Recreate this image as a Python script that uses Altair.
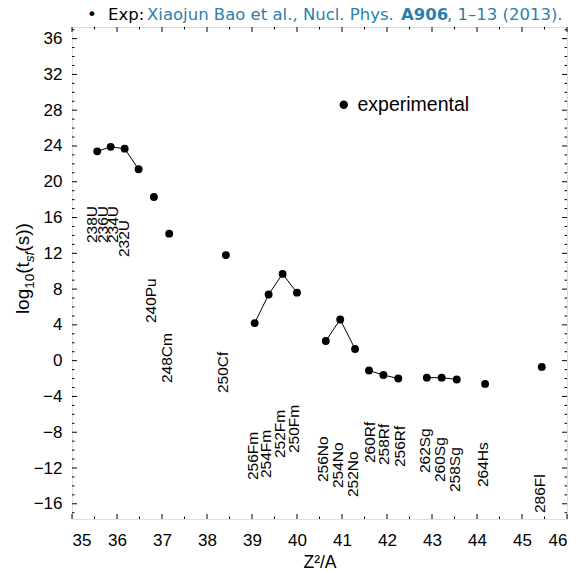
import altair as alt
import pandas as pd

# Spontaneous-fission half-lives of heavy nuclei versus the fissility parameter Z^2/A
nuclides = ["238U", "236U", "234U", "232U", "240Pu", "248Cm", "250Cf",
            "256Fm", "254Fm", "252Fm", "250Fm", "256No", "254No", "252No",
            "260Rf", "258Rf", "256Rf", "262Sg", "260Sg", "258Sg", "264Hs", "286Fl"]
z2_over_a = [35.56, 35.86, 36.17, 36.48, 36.82, 37.16, 38.42,
             39.06, 39.37, 39.68, 40.00, 40.64, 40.96, 41.29,
             41.60, 41.92, 42.25, 42.885, 43.215, 43.55, 44.18, 45.44]
log_tsf = [23.4, 23.9, 23.7, 21.4, 18.3, 14.2, 11.8,
           4.2, 7.4, 9.7, 7.6, 2.2, 4.6, 1.3,
           -1.1, -1.6, -2.0, -1.9, -1.9, -2.1, -2.6, -0.7]
element = ["U", "U", "U", "U", "Pu", "Cm", "Cf",
           "Fm", "Fm", "Fm", "Fm", "No", "No", "No",
           "Rf", "Rf", "Rf", "Sg", "Sg", "Sg", "Hs", "Fl"]

# anchor (start of the vertical text) of each nuclide name, in data units
label_x = [35.44, 35.68, 35.91, 36.16, 36.76, 37.10, 38.36,
           39.02, 39.31, 39.62, 39.93, 40.58, 40.91, 41.24,
           41.62, 41.93, 42.29, 42.84, 43.18, 43.51, 44.14, 45.40]
label_y = [13.15, 13.15, 13.15, 11.58, 4.20, -2.50, -3.62,
           -13.35, -13.12, -10.89, -10.33, -13.57, -14.24, -15.25,
           -11.45, -11.67, -11.89, -12.57, -13.57, -14.69, -14.13, -17.04]

x_ticks = list(range(35, 47))
x_minor = [v + 0.5 for v in range(35, 46)]
y_ticks = list(range(-16, 37, 4))
y_minor = [v for v in range(-17, 38) if v % 4 != 0]

W, H = 495, 492
FONT = "Liberation Sans"
CITE = "#2c7fa8"

df = pd.DataFrame({
    "nuclide": nuclides, "x": z2_over_a, "y": log_tsf, "element": element,
    "lx": label_x, "ly": label_y, "kind": "experimental",
})

xs = alt.Scale(domain=[35, 46], nice=False, zero=False)
ys = alt.Scale(domain=[-17.7, 37.3], nice=False, zero=False)

x_axis = alt.Axis(values=x_ticks, ticks=False, domain=False, grid=False,
                  labelFont=FONT, labelFontSize=17, labelColor="black",
                  labelPadding=13, titleFont=FONT, titleFontSize=17.5,
                  titleFontWeight="normal", titleColor="black", titlePadding=5)
y_axis = alt.Axis(values=y_ticks, ticks=False, domain=False, grid=False,
                  labelFont=FONT, labelFontSize=17, labelColor="black",
                  labelPadding=10)


def X(field):
    return alt.X(field, scale=xs, axis=x_axis, title="Z²/A")


def Y(field):
    return alt.Y(field, scale=ys, axis=y_axis, title=None)


base = alt.Chart(df)

lines = base.mark_line(color="black", strokeWidth=1).encode(
    x=X("x:Q"), y=Y("y:Q"), detail="element:N", order="x:Q",
)

points = base.mark_circle(size=62, opacity=1).encode(
    x=X("x:Q"), y=Y("y:Q"),
    color=alt.Color("kind:N", scale=alt.Scale(range=["black"]),
                    legend=alt.Legend(orient="none", legendX=262, legendY=68,
                                      title=None, symbolType="circle", symbolSize=70,
                                      symbolStrokeWidth=0, labelFont=FONT,
                                      labelFontSize=19.5, labelOffset=4, padding=0)),
)

names = base.mark_text(angle=270, align="left", baseline="middle",
                       font=FONT, fontSize=15.5, color="black").encode(
    x=X("lx:Q"), y=Y("ly:Q"), text="nuclide:N",
)


# frame ticks pointing inward on all four sides
def xtick_layer(vals, length):
    d = alt.Chart(pd.DataFrame({"v": vals}))
    bottom = d.mark_rule(color="black", strokeWidth=1).encode(
        x=X("v:Q"), y=alt.value(H), y2=alt.value(H - length))
    top = d.mark_rule(color="black", strokeWidth=1).encode(
        x=X("v:Q"), y=alt.value(0), y2=alt.value(length))
    return [bottom, top]


def ytick_layer(vals, length):
    d = alt.Chart(pd.DataFrame({"v": vals}))
    left = d.mark_rule(color="black", strokeWidth=1).encode(
        y=Y("v:Q"), x=alt.value(0), x2=alt.value(length))
    right = d.mark_rule(color="black", strokeWidth=1).encode(
        y=Y("v:Q"), x=alt.value(W), x2=alt.value(W - length))
    return [left, right]


ticks = (xtick_layer(x_ticks, 5) + xtick_layer(x_minor, 2.5)
         + ytick_layer(y_ticks, 5) + ytick_layer(y_minor, 2.5))

one = pd.DataFrame({"_": [0]})


def note(text, x, y, size, color="black", weight="normal", style="normal",
         angle=0, font=FONT):
    return alt.Chart(one).mark_text(
        text=text, align="left", baseline="alphabetic", angle=angle,
        font=font, fontSize=size, fontWeight=weight, fontStyle=style, color=color,
    ).encode(x=alt.value(x), y=alt.value(y))


# reference line above the frame
TF = "DejaVu Sans"
title_parts = [
    note("•", 87 - 72, 20 - 27, 16.5, font=TF),
    note("Exp:", 108 - 72, 20 - 27, 16.5, font=TF),
    note("Xiaojun Bao et al., Nucl. Phys. ", 147 - 72, 20 - 27, 16.5, CITE, font=TF),
    note("A906", 401 - 72, 20 - 27, 16.5, CITE, weight="bold", font=TF),
    note(", 1–13 (2013).", 447 - 72, 20 - 27, 16.5, CITE, font=TF),
]

# y-axis title log10(t_sf (s)) built from pieces with subscripts
ARIAL = {"l": 0.222, "o": 0.556, "g": 0.556, "1": 0.556, "0": 0.556, "(": 0.333,
         "t": 0.278, "s": 0.5, "f": 0.278, ")": 0.333, " ": 0.278}
pieces = [("log", 19, 0, "normal"), ("10", 13.5, 4.5, "normal"), ("(t", 19, 0, "normal"),
          ("sf", 13.5, 4.5, "italic"), (" (s))", 19, 0, "normal")]
total = sum(sum(ARIAL[c] for c in s) * sz for s, sz, _, _ in pieces)
cursor = 266 - 27 + total / 2
ytitle = []
for s, sz, shift, st in pieces:
    ytitle.append(note(s, 29 - 72 + shift, cursor, sz, style=st, angle=270))
    cursor -= sum(ARIAL[c] for c in s) * sz

chart = alt.layer(
    points, lines, names, *ticks, *title_parts, *ytitle
).properties(
    width=W, height=H,
    padding={"left": 72, "top": 27, "right": 12, "bottom": 54},
    autosize=alt.AutoSizeParams(type="none"),
).configure_view(
    stroke="black", strokeWidth=1
).configure(background="white")

chart.save("out.html", embed_options={"renderer": "svg", "actions": False})
